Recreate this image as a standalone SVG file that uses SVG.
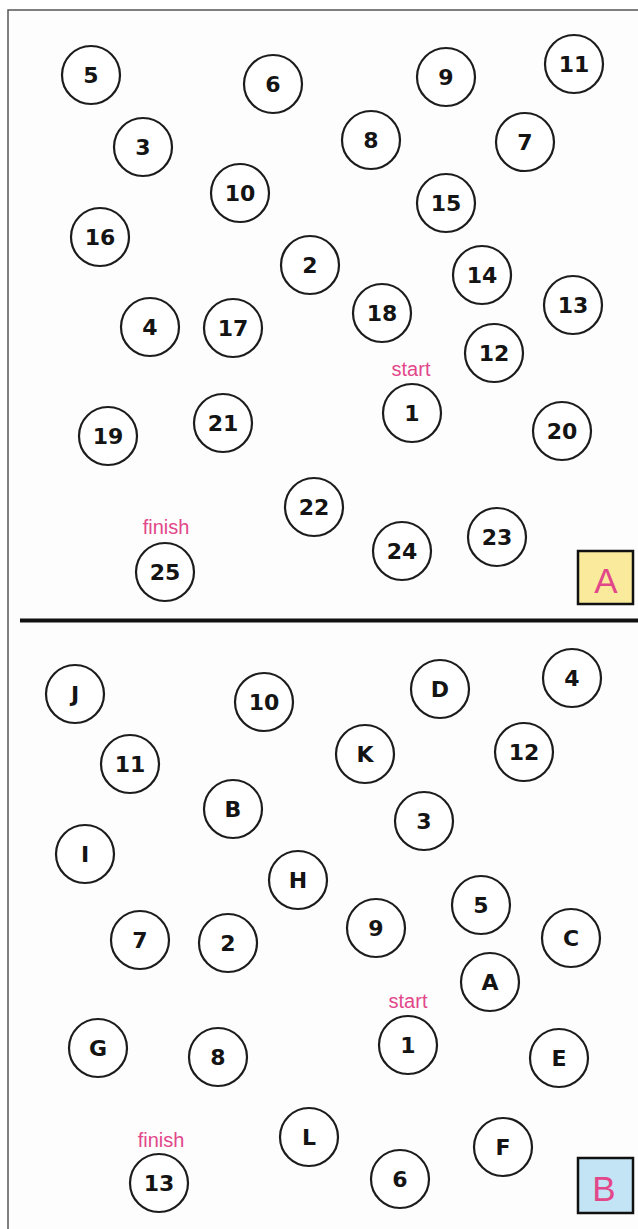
<svg xmlns="http://www.w3.org/2000/svg" width="638" height="1229" viewBox="0 0 638 1229">
<style>
.n circle{fill:#fff;stroke:#1c1c1c;stroke-width:2.2}
.n text.v{font-family:"DejaVu Sans",sans-serif;font-weight:bold;font-size:22px;fill:#141414;text-anchor:middle}
.n text.lbl{font-family:"Liberation Sans",Arial,sans-serif;font-size:20px;fill:#e2478a;text-anchor:middle}
.tag{font-family:"Liberation Sans",Arial,sans-serif;font-size:35px;fill:#e2478a;text-anchor:middle}
</style>
<rect width="638" height="1229" fill="#fff"/>
<rect x="8" y="10" width="630" height="1219" fill="#fdfdfd"/>
<path d="M8 1229 V10 H638" fill="none" stroke="#555" stroke-width="1.5"/>
<line x1="20" y1="620.5" x2="638" y2="620.5" stroke="#111" stroke-width="4"/>

<g id="panelA">
<g id="a5" class="n"><circle cx="91" cy="75" r="29"/><text class="v" x="91" y="83">5</text></g>
<g id="a6" class="n"><circle cx="273" cy="84" r="29"/><text class="v" x="273" y="92">6</text></g>
<g id="a9" class="n"><circle cx="446" cy="77" r="29"/><text class="v" x="446" y="85">9</text></g>
<g id="a11" class="n"><circle cx="574" cy="64" r="29"/><text class="v" x="574" y="72">11</text></g>
<g id="a3" class="n"><circle cx="143" cy="147" r="29"/><text class="v" x="143" y="155">3</text></g>
<g id="a8" class="n"><circle cx="371" cy="140" r="29"/><text class="v" x="371" y="148">8</text></g>
<g id="a7" class="n"><circle cx="525" cy="142" r="29"/><text class="v" x="525" y="150">7</text></g>
<g id="a10" class="n"><circle cx="240" cy="193" r="29"/><text class="v" x="240" y="201">10</text></g>
<g id="a15" class="n"><circle cx="446" cy="203" r="29"/><text class="v" x="446" y="211">15</text></g>
<g id="a16" class="n"><circle cx="100" cy="237" r="29"/><text class="v" x="100" y="245">16</text></g>
<g id="a2" class="n"><circle cx="310" cy="265" r="29"/><text class="v" x="310" y="273">2</text></g>
<g id="a14" class="n"><circle cx="482" cy="275" r="29"/><text class="v" x="482" y="283">14</text></g>
<g id="a13" class="n"><circle cx="573" cy="305" r="29"/><text class="v" x="573" y="313">13</text></g>
<g id="a18" class="n"><circle cx="382" cy="313" r="29"/><text class="v" x="382" y="321">18</text></g>
<g id="a4" class="n"><circle cx="150" cy="327" r="29"/><text class="v" x="150" y="335">4</text></g>
<g id="a17" class="n"><circle cx="233" cy="328" r="29"/><text class="v" x="233" y="336">17</text></g>
<g id="a12" class="n"><circle cx="494" cy="353" r="29"/><text class="v" x="494" y="361">12</text></g>
<g id="a1" class="n"><text class="lbl" x="411" y="376">start</text><circle cx="412" cy="413" r="29"/><text class="v" x="412" y="421">1</text></g>
<g id="a19" class="n"><circle cx="108" cy="436" r="29"/><text class="v" x="108" y="444">19</text></g>
<g id="a21" class="n"><circle cx="223" cy="423" r="29"/><text class="v" x="223" y="431">21</text></g>
<g id="a20" class="n"><circle cx="562" cy="431" r="29"/><text class="v" x="562" y="439">20</text></g>
<g id="a22" class="n"><circle cx="314" cy="507" r="29"/><text class="v" x="314" y="515">22</text></g>
<g id="a23" class="n"><circle cx="497" cy="537" r="29"/><text class="v" x="497" y="545">23</text></g>
<g id="a24" class="n"><circle cx="402" cy="551" r="29"/><text class="v" x="402" y="559">24</text></g>
<g id="a25" class="n"><text class="lbl" x="166" y="534">finish</text><circle cx="165" cy="572" r="29"/><text class="v" x="165" y="580">25</text></g>
<g id="tagA"><rect x="578" y="551" width="55" height="53" fill="#f9eb9b" stroke="#111" stroke-width="2.5"/><text class="tag" x="606" y="593">A</text></g>
</g>

<g id="panelB">
<g id="bJ" class="n"><circle cx="75" cy="694" r="29"/><text class="v" x="75" y="702">J</text></g>
<g id="b10" class="n"><circle cx="264" cy="702" r="29"/><text class="v" x="264" y="710">10</text></g>
<g id="bD" class="n"><circle cx="440" cy="689" r="29"/><text class="v" x="440" y="697">D</text></g>
<g id="b4" class="n"><circle cx="572" cy="678" r="29"/><text class="v" x="572" y="686">4</text></g>
<g id="b11" class="n"><circle cx="130" cy="764" r="29"/><text class="v" x="130" y="772">11</text></g>
<g id="bK" class="n"><circle cx="365" cy="754" r="29"/><text class="v" x="365" y="762">K</text></g>
<g id="b12" class="n"><circle cx="524" cy="752" r="29"/><text class="v" x="524" y="760">12</text></g>
<g id="bB" class="n"><circle cx="233" cy="809" r="29"/><text class="v" x="233" y="817">B</text></g>
<g id="b3" class="n"><circle cx="424" cy="821" r="29"/><text class="v" x="424" y="829">3</text></g>
<g id="bI" class="n"><circle cx="85" cy="854" r="29"/><text class="v" x="85" y="862">I</text></g>
<g id="bH" class="n"><circle cx="298" cy="880" r="29"/><text class="v" x="298" y="888">H</text></g>
<g id="b5" class="n"><circle cx="481" cy="905" r="29"/><text class="v" x="481" y="913">5</text></g>
<g id="b9" class="n"><circle cx="376" cy="928" r="29"/><text class="v" x="376" y="936">9</text></g>
<g id="bC" class="n"><circle cx="571" cy="938" r="29"/><text class="v" x="571" y="946">C</text></g>
<g id="b7" class="n"><circle cx="140" cy="940" r="29"/><text class="v" x="140" y="948">7</text></g>
<g id="b2" class="n"><circle cx="228" cy="943" r="29"/><text class="v" x="228" y="951">2</text></g>
<g id="bA" class="n"><circle cx="490" cy="982" r="29"/><text class="v" x="490" y="990">A</text></g>
<g id="b1" class="n"><text class="lbl" x="408" y="1008">start</text><circle cx="408" cy="1045" r="29"/><text class="v" x="408" y="1053">1</text></g>
<g id="bG" class="n"><circle cx="98" cy="1048" r="29"/><text class="v" x="98" y="1056">G</text></g>
<g id="b8" class="n"><circle cx="218" cy="1057" r="29"/><text class="v" x="218" y="1065">8</text></g>
<g id="bE" class="n"><circle cx="559" cy="1058" r="29"/><text class="v" x="559" y="1066">E</text></g>
<g id="bL" class="n"><circle cx="309" cy="1137" r="29"/><text class="v" x="309" y="1145">L</text></g>
<g id="bF" class="n"><circle cx="503" cy="1147" r="29"/><text class="v" x="503" y="1155">F</text></g>
<g id="b6" class="n"><circle cx="400" cy="1179" r="29"/><text class="v" x="400" y="1187">6</text></g>
<g id="b13" class="n"><text class="lbl" x="161" y="1147">finish</text><circle cx="159" cy="1183" r="29"/><text class="v" x="159" y="1191">13</text></g>
<g id="tagB"><rect x="578" y="1158" width="55" height="55" fill="#c2e4f4" stroke="#111" stroke-width="2.5"/><text class="tag" x="604" y="1201">B</text></g>
</g>
</svg>
